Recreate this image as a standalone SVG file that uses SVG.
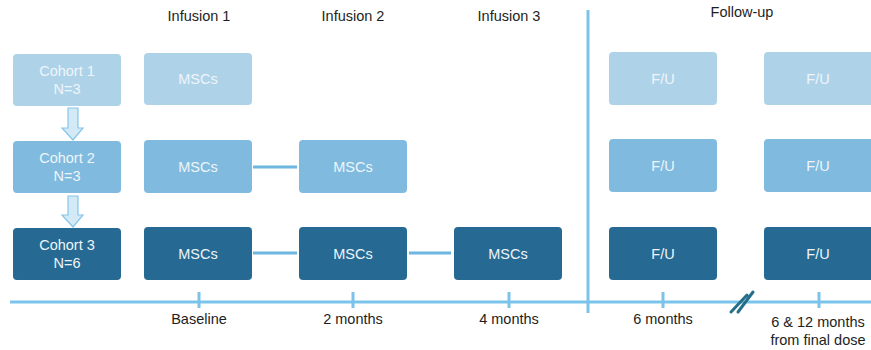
<svg xmlns="http://www.w3.org/2000/svg" width="871" height="350" viewBox="0 0 871 350">
  <style>
    text { font-family: "Liberation Sans", Arial, sans-serif; font-size: 14.5px; text-anchor: middle; }
    .lbl { fill: #1e1e1e; }
    .box text { fill: #eef5fa; dominant-baseline: central; }
    .r1 { fill: #aed3e9; }
    .r2 { fill: #80bbdf; }
    .r3 { fill: #266a93; }
    .link { stroke: #6db6e1; stroke-width: 3; fill: none; }
    .axis { stroke: #7cc3ec; stroke-width: 3; fill: none; }
    .step { fill: #d4e9f6; stroke: #86c6ea; stroke-width: 1.2; }
    .brk { stroke: #256f8a; stroke-width: 3; stroke-linecap: round; fill: none; }
  </style>

  <!-- column headings -->
  <g id="headings">
    <text class="lbl" x="199" y="21">Infusion 1</text>
    <text class="lbl" x="353" y="21">Infusion 2</text>
    <text class="lbl" x="509" y="21">Infusion 3</text>
    <text class="lbl" x="742" y="17">Follow-up</text>
  </g>

  <!-- cohorts -->
  <g id="cohort1" class="box">
    <rect class="r1" x="13" y="54" width="108" height="52" rx="4"/>
    <text x="67" y="71">Cohort 1</text>
    <text x="67" y="89">N=3</text>
  </g>
  <g id="cohort2" class="box">
    <rect class="r2" x="13" y="141" width="108" height="52" rx="4"/>
    <text x="67" y="158">Cohort 2</text>
    <text x="67" y="176">N=3</text>
  </g>
  <g id="cohort3" class="box">
    <rect class="r3" x="13" y="228" width="108" height="52" rx="4"/>
    <text x="67" y="245">Cohort 3</text>
    <text x="67" y="263">N=6</text>
  </g>

  <!-- infusions -->
  <g id="msc-1-1" class="box"><rect class="r1" x="144" y="53" width="108" height="52" rx="4"/><text x="198" y="79">MSCs</text></g>
  <g id="msc-2-1" class="box"><rect class="r2" x="144" y="140" width="108" height="53" rx="4"/><text x="198" y="167">MSCs</text></g>
  <g id="msc-2-2" class="box"><rect class="r2" x="299" y="140" width="108" height="53" rx="4"/><text x="353" y="167">MSCs</text></g>
  <g id="msc-3-1" class="box"><rect class="r3" x="144" y="227" width="108" height="53" rx="4"/><text x="198" y="254">MSCs</text></g>
  <g id="msc-3-2" class="box"><rect class="r3" x="299" y="227" width="108" height="53" rx="4"/><text x="353" y="254">MSCs</text></g>
  <g id="msc-3-3" class="box"><rect class="r3" x="454" y="227" width="108" height="53" rx="4"/><text x="508" y="254">MSCs</text></g>

  <!-- follow-up visits -->
  <g id="fu-1-1" class="box"><rect class="r1" x="609" y="52" width="108" height="53" rx="4"/><text x="663" y="79">F/U</text></g>
  <g id="fu-1-2" class="box"><rect class="r1" x="764" y="52" width="110" height="53" rx="4"/><text x="818" y="79">F/U</text></g>
  <g id="fu-2-1" class="box"><rect class="r2" x="609" y="139" width="108" height="53" rx="4"/><text x="663" y="166">F/U</text></g>
  <g id="fu-2-2" class="box"><rect class="r2" x="764" y="139" width="110" height="53" rx="4"/><text x="818" y="166">F/U</text></g>
  <g id="fu-3-1" class="box"><rect class="r3" x="609" y="227" width="108" height="53" rx="4"/><text x="663" y="254">F/U</text></g>
  <g id="fu-3-2" class="box"><rect class="r3" x="764" y="227" width="110" height="53" rx="4"/><text x="818" y="254">F/U</text></g>

  <!-- connectors -->
  <g id="connectors">
    <path class="step" d="M68,108 H78 V128 H83 L73,140 L62,128 H68 Z"/>
    <path class="step" d="M68,196 H78 V215 H83 L73,227 L62,215 H68 Z"/>
    <line class="link" x1="253" y1="167" x2="297" y2="167"/>
    <line class="link" x1="253" y1="253" x2="297" y2="253"/>
    <line class="link" x1="409" y1="253" x2="451" y2="253"/>
  </g>

  <!-- timeline -->
  <g id="timeline">
    <line class="axis" x1="10" y1="302" x2="871" y2="302"/>
    <line class="axis" x1="588" y1="10" x2="588" y2="313"/>
    <line class="axis" x1="199" y1="292" x2="199" y2="308"/>
    <line class="axis" x1="353" y1="292" x2="353" y2="308"/>
    <line class="axis" x1="509" y1="292" x2="509" y2="308"/>
    <line class="axis" x1="663" y1="292" x2="663" y2="308"/>
    <line class="axis" x1="819" y1="292" x2="819" y2="308"/>
    <path class="brk" d="M731,312 L747,295 M738,312 L753,292"/>
    <text class="lbl" x="199" y="324">Baseline</text>
    <text class="lbl" x="353" y="324">2 months</text>
    <text class="lbl" x="509" y="324">4 months</text>
    <text class="lbl" x="663" y="324">6 months</text>
    <text class="lbl" x="818" y="327">6 &amp; 12 months</text>
    <text class="lbl" x="818" y="345">from final dose</text>
  </g>
</svg>
